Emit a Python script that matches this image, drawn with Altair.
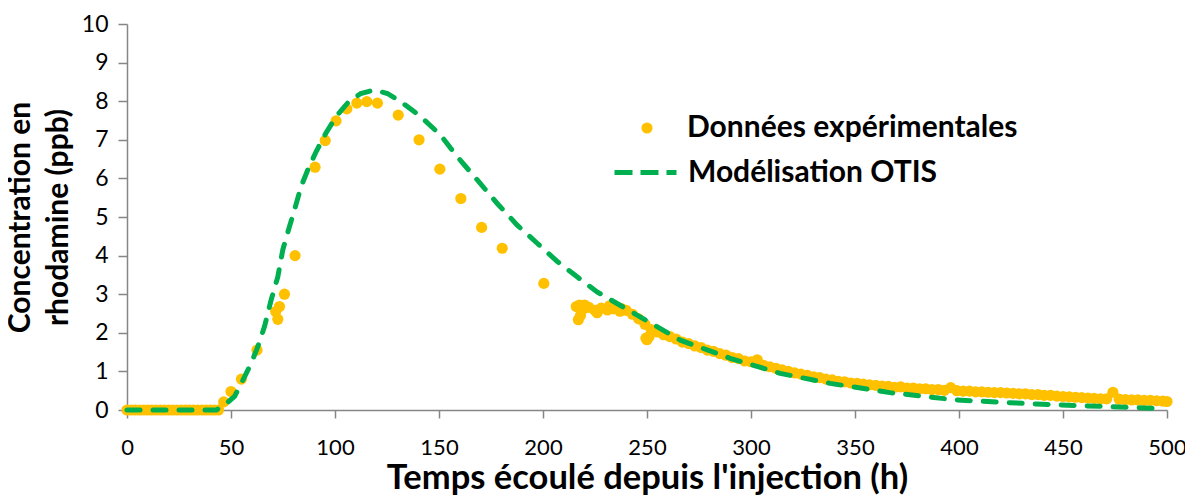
import altair as alt
import pandas as pd

# ---- Experimental data (hours, ppb) ----
exp_hours_flat = [0, 2, 4, 6, 8, 10, 12, 14, 16, 18, 20, 22, 24, 26, 28, 30, 32, 34, 36, 38, 40, 42, 44]
exp_conc_flat = [0, 0, 0, 0, 0, 0, 0, 0, 0, 0, 0, 0, 0, 0, 0, 0, 0, 0, 0, 0, 0, 0, 0]

exp_hours_peak = [46.5, 50, 55, 62.5, 71.5, 72.5, 73.3, 75.7, 80.8, 90.4, 95.3, 100.5, 105.7,
                  110.5, 115.3, 120.4, 130.4, 140.4, 150.4, 160.5, 170.5, 180.4, 200.4]
exp_conc_peak = [0.21, 0.48, 0.80, 1.55, 2.55, 2.35, 2.68, 3.00, 4.00, 6.29, 6.98, 7.49, 7.80,
                 7.95, 7.99, 7.95, 7.64, 7.00, 6.24, 5.48, 4.73, 4.19, 3.28]

exp_hours_tail = [216, 219, 222, 225, 228, 231, 234, 237, 240, 243, 246, 249, 252, 255, 258, 261,
                  264, 267, 270, 273, 276, 279, 282, 285, 288, 291, 294, 297, 300, 303, 306, 309,
                  312, 315, 318, 321, 324, 327, 330, 333, 336, 339, 342, 345, 348, 351, 354, 357,
                  360, 363, 366, 369, 372, 375, 378, 381, 384, 387, 390, 393, 396, 399, 402, 405,
                  408, 411, 414, 417, 420, 423, 426, 429, 432, 435, 438, 441, 444, 447, 450, 453,
                  456, 459, 462, 465, 468, 471, 474, 477, 480, 483, 486, 489, 492, 495, 498, 500,
                  217, 218, 217.5, 220, 226, 232, 238, 250, 251, 249.5]
exp_conc_tail = [2.68, 2.60, 2.66, 2.58, 2.64, 2.59, 2.62, 2.56, 2.58, 2.48, 2.36, 2.22, 2.08, 2.02, 1.95, 1.90,
                 1.84, 1.76, 1.72, 1.66, 1.62, 1.55, 1.52, 1.46, 1.42, 1.36, 1.33, 1.27, 1.25, 1.30, 1.16, 1.12,
                 1.08, 1.04, 1.00, 0.96, 0.93, 0.90, 0.86, 0.84, 0.80, 0.78, 0.74, 0.73, 0.70, 0.69, 0.67, 0.65,
                 0.64, 0.62, 0.61, 0.59, 0.60, 0.57, 0.57, 0.55, 0.55, 0.53, 0.53, 0.51, 0.58, 0.50, 0.49, 0.49,
                 0.47, 0.47, 0.46, 0.45, 0.45, 0.44, 0.43, 0.42, 0.42, 0.40, 0.40, 0.38, 0.38, 0.36, 0.35, 0.34,
                 0.33, 0.32, 0.31, 0.30, 0.29, 0.29, 0.46, 0.28, 0.27, 0.26, 0.26, 0.25, 0.25, 0.24, 0.23, 0.22,
                 2.34, 2.45, 2.72, 2.72, 2.52, 2.70, 2.62, 1.82, 1.90, 1.86]

# ---- OTIS model (hours, ppb) ----
model_hours = [0, 43, 46.9, 51.7, 56.5, 59.7, 62.9, 66.1, 69.3, 72.5, 74.9, 78.1, 80.5, 83.7, 86.9,
               90.9, 95.6, 100.5, 106, 112.4, 118.8, 125.2, 131.6, 141.2, 150.8, 158.8, 168.4,
               178, 187.6, 197.2, 206.8, 216.4, 226, 235.6, 245.2, 254.8, 266, 290, 314, 338,
               366.8, 398.8, 437, 472, 497]
model_conc = [0, 0, 0.13, 0.35, 0.86, 1.21, 1.64, 2.16, 2.85, 3.45, 4.15, 4.75, 5.18, 5.79, 6.22,
              6.69, 7.17, 7.60, 7.95, 8.20, 8.29, 8.20, 7.99, 7.60, 7.12, 6.56, 5.96,
              5.35, 4.79, 4.32, 3.85, 3.45, 3.06, 2.76, 2.46, 2.16, 1.81, 1.34, 0.95, 0.69,
              0.45, 0.26, 0.155, 0.086, 0.04]

x_ticks = [0, 50, 100, 150, 200, 250, 300, 350, 400, 450, 500]
y_ticks = [0, 1, 2, 3, 4, 5, 6, 7, 8, 9, 10]

EXP_NAME = "Données expérimentales"
MOD_NAME = "Modélisation OTIS"

exp_df = pd.DataFrame({
    "t": exp_hours_flat + exp_hours_peak + exp_hours_tail,
    "c": exp_conc_flat + exp_conc_peak + exp_conc_tail,
})
exp_df["serie"] = EXP_NAME
mod_df = pd.DataFrame({"t": model_hours, "c": model_conc})
mod_df["serie"] = MOD_NAME

FONT = "Lato"
AX_GRAY = "#868686"

x_enc = alt.X("t:Q", scale=alt.Scale(domain=[0, 500], nice=False),
              axis=alt.Axis(values=x_ticks, title="Temps écoulé depuis l'injection (h)",
                            labelFlush=False, tickSize=8, labelPadding=19, labelFontSize=22,
                            titlePadding=3, titleFontSize=34.5))
y_enc = alt.Y("c:Q", scale=alt.Scale(domain=[0, 10], nice=False),
              axis=alt.Axis(values=y_ticks, title=["Concentration en", "rhodamine (ppb)"],
                            tickSize=9, labelPadding=10, titlePadding=8, labelFontSize=23,
                            titleFontSize=30, titleLineHeight=38))

points = alt.Chart(exp_df).mark_circle(size=125, opacity=1).encode(
    x=x_enc, y=y_enc,
    color=alt.Color("serie:N", scale=alt.Scale(domain=[EXP_NAME], range=["#FFC000"]),
                    legend=alt.Legend(title=None, orient="none", legendX=505, legendY=89,
                                      symbolType="circle", symbolSize=125, labelOffset=25,
                                      padding=0, labelLimit=600)),
)

line = alt.Chart(mod_df).mark_line(strokeWidth=5, strokeDash=[13, 13], strokeCap="round").encode(
    x=x_enc, y=y_enc,
    color=alt.Color("serie:N", scale=alt.Scale(domain=[MOD_NAME], range=["#00B050"]),
                    legend=alt.Legend(title=None, orient="none", legendX=485, legendY=115,
                                      symbolType="stroke", symbolSize=3844, symbolStrokeWidth=5,
                                      symbolDash=[18, 8], labelOffset=9,
                                      padding=0, labelLimit=600)),
)

chart = alt.layer(points, line).resolve_scale(color="independent").properties(
    width=1040, height=386,
    autosize=alt.AutoSizeParams(type="none"),
    padding={"left": 119, "top": 16, "right": 18, "bottom": 85},
    background="white",
).configure_view(stroke=None).configure_axis(
    grid=False, domainColor=AX_GRAY, tickColor=AX_GRAY, domainWidth=1.5, tickWidth=1.5,
    labelFont=FONT, labelColor="black",
    titleFont=FONT, titleFontWeight="bold", titleColor="black",
).configure_legend(
    labelFont=FONT, labelFontSize=30, labelFontWeight="bold", labelColor="black",
)

chart.save("out.html", embed_options={"renderer": "svg", "actions": False})
